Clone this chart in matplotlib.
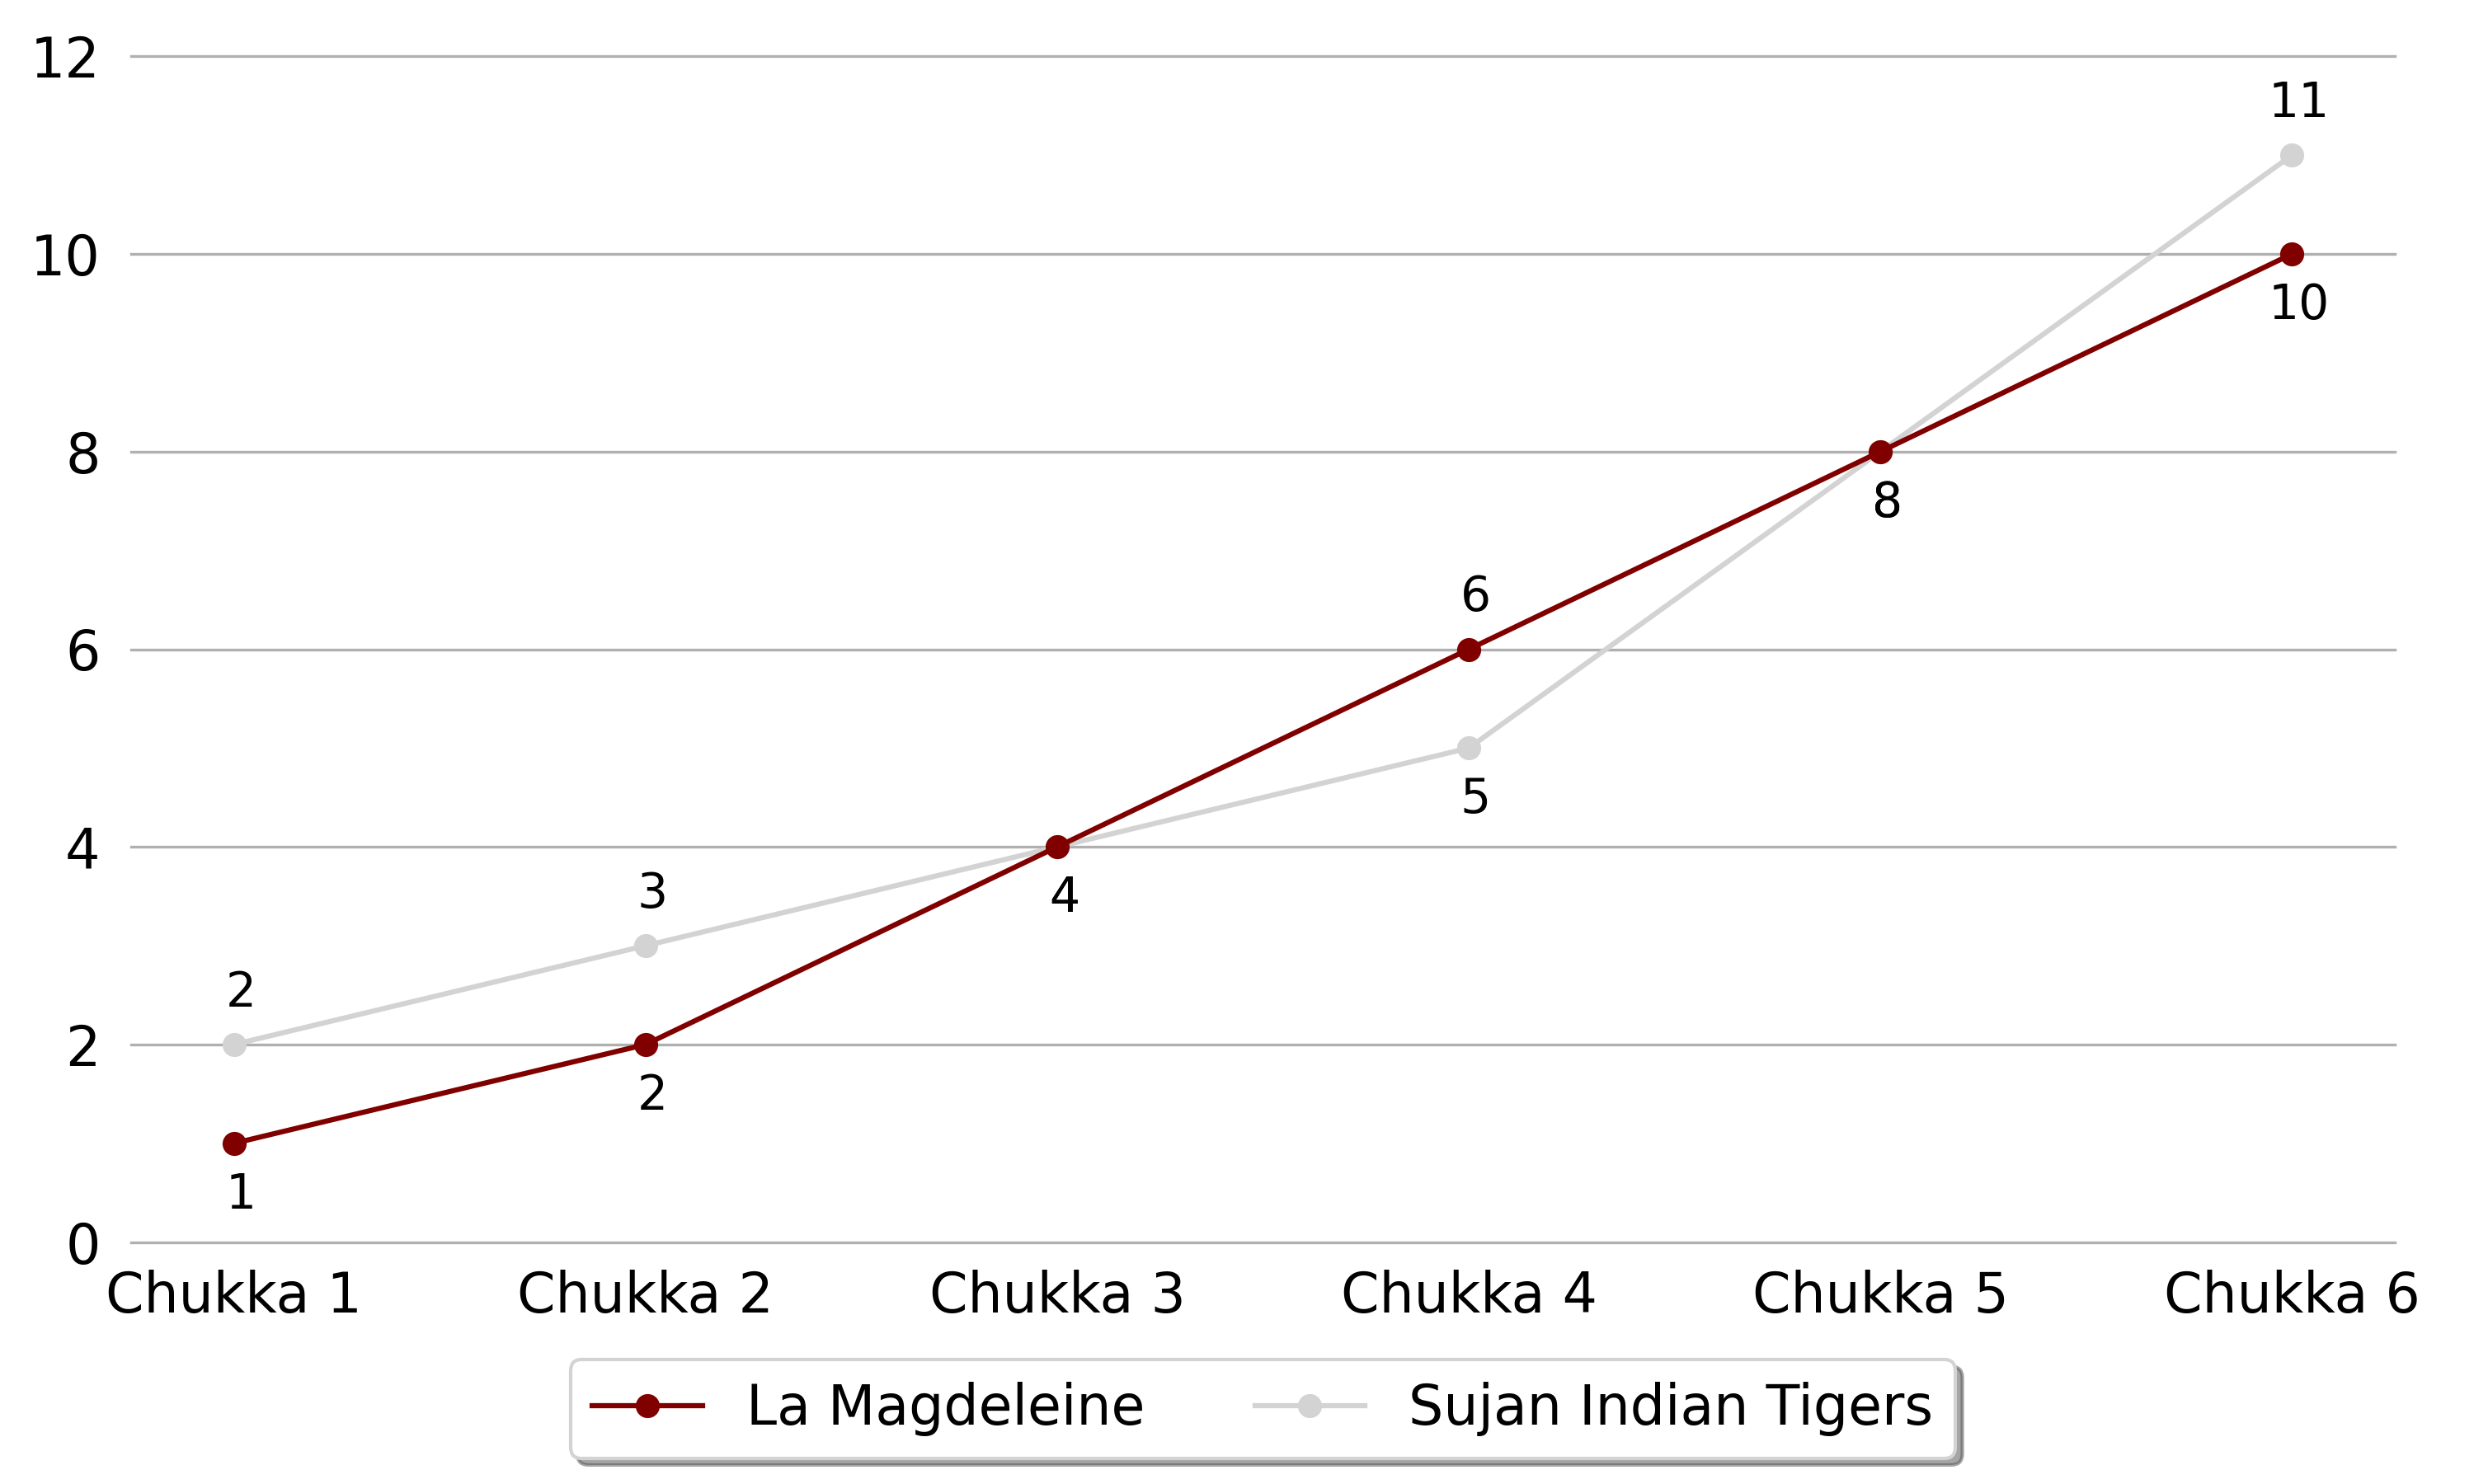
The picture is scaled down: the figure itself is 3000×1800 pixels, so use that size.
import matplotlib.pyplot as plt

chukkas = ["Chukka 1", "Chukka 2", "Chukka 3", "Chukka 4", "Chukka 5", "Chukka 6"]
la_magdeleine = [1, 2, 4, 6, 8, 10]
sujan_tigers = [2, 3, 4, 5, 8, 11]

fig = plt.figure(figsize=(10, 6), dpi=300)
ax = fig.add_axes([0.053, 0.163, 0.915, 0.799])

x = list(range(len(chukkas)))
ax.plot(x, la_magdeleine, color="#800000", marker="o", lw=1.5, ms=6,
        label="La Magdeleine", zorder=3)
ax.plot(x, sujan_tigers, color="#d3d3d3", marker="o", lw=1.5, ms=6,
        label="Sujan Indian Tigers", zorder=2)

# label higher value above the point, lower (or tied) below
for i in x:
    for val, other in ((la_magdeleine[i], sujan_tigers[i]),
                       (sujan_tigers[i], la_magdeleine[i])):
        dy = 15 if val > other else -15
        ax.annotate(str(val), (i, val), xytext=(2, dy), textcoords="offset points",
                    ha="center", va="center", fontsize=14)

ax.set_xlim(-0.25, 5.25)
ax.set_ylim(0, 12)
ax.set_xticks(x)
ax.set_xticklabels(chukkas)
ax.set_yticks(range(0, 13, 2))
ax.tick_params(axis="y", length=0, labelsize=16, pad=9)
ax.tick_params(axis="x", length=0, labelsize=16, pad=8)
ax.grid(axis="y", color="#b0b0b0", lw=0.8)
for gl in ax.get_ygridlines():
    gl.set_clip_on(False)
ax.set_axisbelow(True)
for s in ax.spines.values():
    s.set_visible(False)

leg = ax.legend(loc="upper center", bbox_to_anchor=(0.5, -0.076), ncol=2,
                fontsize=16, frameon=True, shadow=True, fancybox=True,
                edgecolor="#d3d3d3", columnspacing=2)

fig.savefig("out.png")
